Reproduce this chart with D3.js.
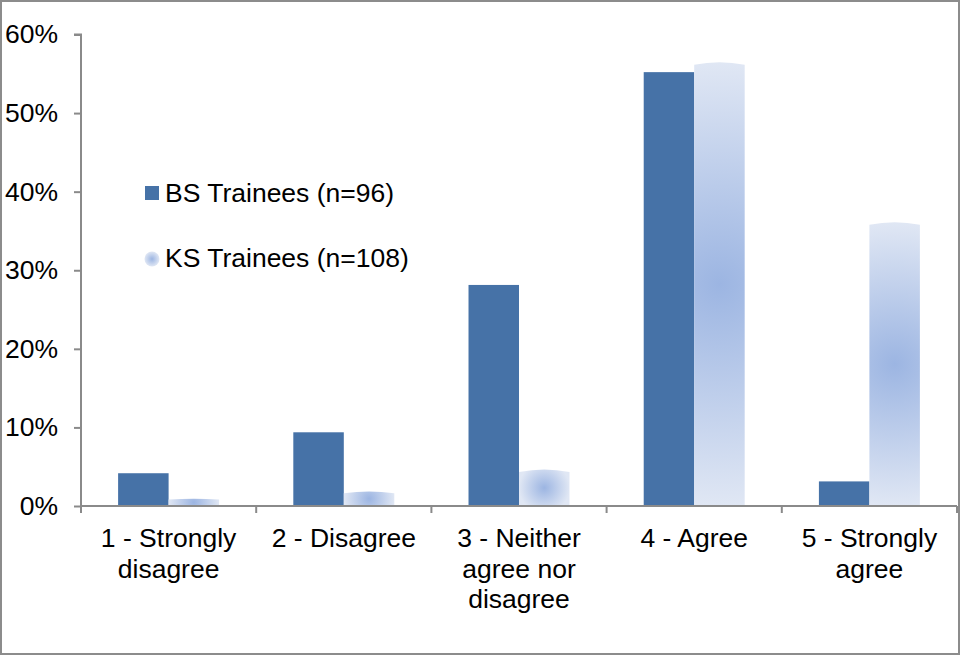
<!DOCTYPE html>
<html>
<head>
<meta charset="utf-8">
<script src="https://cdn.jsdelivr.net/npm/d3@7"></script>
<style>
  html, body { margin: 0; padding: 0; background: #fff; }
  svg { display: block; font-family: "Liberation Sans", Arial, sans-serif; }
</style>
</head>
<body>
<svg id="chart" width="961" height="656"></svg>
<script>
// Survey responses by trainee group (percent of respondents)
const categories = ["1 - Strongly disagree", "2 - Disagree", "3 - Neither agree nor disagree", "4 - Agree", "5 - Strongly agree"];
const categoryLines = [["1 - Strongly", "disagree"], ["2 - Disagree"], ["3 - Neither", "agree nor", "disagree"], ["4 - Agree"], ["5 - Strongly", "agree"]];
const seriesNames = ["BS Trainees (n=96)", "KS Trainees (n=108)"];
const bsValues = [4.17, 9.38, 28.13, 55.21, 3.13];
const ksValues = [0.93, 1.85, 4.63, 56.48, 36.11];
const yTicks = [0, 10, 20, 30, 40, 50, 60];

const svg = d3.select("#chart");
const axisColor = "#8a8a8a";
const bsColor = "#4672a7";
const ksCenter = "#9cb5e2";
const ksEdge = "#e0e7f4";
const fontSize = 26.5;

// Outer frame
svg.append("rect")
  .attr("x", 1).attr("y", 1).attr("width", 958).attr("height", 653)
  .attr("fill", "#fff").attr("stroke", "#8c8c8c").attr("stroke-width", 2);

const defs = svg.append("defs");

const plot = { left: 81, right: 957, top: 34.5, bottom: 506 };

const x = d3.scaleBand().domain(categories).range([plot.left, plot.right]).padding(0);
const x1 = d3.scaleBand().domain(["BS", "KS"]).range([0, x.bandwidth()])
  .paddingInner(0).paddingOuter(0.735);
const y = d3.scaleLinear().domain([0, 60]).range([plot.bottom, plot.top]);

// BS bars
svg.append("g").selectAll("rect")
  .data(bsValues)
  .join("rect")
  .attr("x", (d, i) => x(categories[i]) + x1("BS"))
  .attr("y", d => y(d))
  .attr("width", x1.bandwidth())
  .attr("height", d => y(0) - y(d))
  .attr("fill", bsColor);

// KS bars: circular glow centred in each bar, with a slightly rounded cap
ksValues.forEach((d, i) => {
  const x0 = x(categories[i]) + x1("KS");
  const w = x1.bandwidth();
  const top = y(d);
  const b = y(0);
  const g = defs.append("radialGradient")
    .attr("id", "ks" + i)
    .attr("gradientUnits", "userSpaceOnUse")
    .attr("cx", x0 + w / 2).attr("cy", (top + b) / 2)
    .attr("r", Math.max(w, b - top) / 2);
  g.append("stop").attr("offset", 0).attr("stop-color", ksCenter);
  g.append("stop").attr("offset", 1).attr("stop-color", ksEdge);
});
svg.append("g").selectAll("path")
  .data(ksValues)
  .join("path")
  .attr("d", (d, i) => {
    const x0 = x(categories[i]) + x1("KS");
    const w = x1.bandwidth();
    const top = y(d);
    const b = y(0);
    const rise = Math.min(2.5, (b - top) / 8);
    return `M${x0},${b} L${x0},${top + rise} Q${x0 + w / 2},${top - rise} ${x0 + w},${top + rise} L${x0 + w},${b} Z`;
  })
  .attr("fill", (d, i) => `url(#ks${i})`);

// Y axis
const yAxis = svg.append("g")
  .attr("transform", `translate(${plot.left},0)`)
  .call(d3.axisLeft(y).tickValues(yTicks).tickFormat(d => d + "%").tickSize(7).tickPadding(16));
yAxis.select(".domain").attr("stroke", axisColor).attr("stroke-width", 2)
  .attr("d", `M-7,${y(60)}H0V${y(0)}`);
yAxis.selectAll(".tick line").attr("stroke", axisColor).attr("stroke-width", 2);
yAxis.selectAll(".tick text").attr("fill", "#000").attr("font-size", fontSize)
  .attr("font-family", "Liberation Sans, Arial, sans-serif");

// X axis: baseline, boundary ticks, and wrapped category labels
const xAxis = svg.append("g");
xAxis.append("line")
  .attr("x1", plot.left).attr("x2", plot.right)
  .attr("y1", y(0)).attr("y2", y(0))
  .attr("stroke", axisColor).attr("stroke-width", 2);
const bounds = categories.map(c => x(c)).concat([x.range()[1]]);
xAxis.selectAll("line.tick")
  .data(bounds)
  .join("line")
  .attr("class", "tick")
  .attr("x1", d => d).attr("x2", d => d)
  .attr("y1", y(0)).attr("y2", y(0) + 7)
  .attr("stroke", axisColor).attr("stroke-width", 2);
const labels = xAxis.selectAll("text")
  .data(categories)
  .join("text")
  .attr("text-anchor", "middle")
  .attr("font-size", fontSize)
  .attr("fill", "#000");
labels.each(function (c, i) {
  const t = d3.select(this);
  categoryLines[i].forEach((line, j) => {
    t.append("tspan")
      .attr("x", x(c) + x.bandwidth() / 2)
      .attr("y", 547 + j * 30.5)
      .text(line);
  });
});

// Legend
const legend = svg.append("g");
legend.append("rect")
  .attr("x", 145).attr("y", 186).attr("width", 14).attr("height", 14)
  .attr("fill", bsColor);
const dotGrad = defs.append("radialGradient").attr("id", "ksDot");
dotGrad.append("stop").attr("offset", 0).attr("stop-color", ksCenter);
dotGrad.append("stop").attr("offset", 1).attr("stop-color", ksEdge);
legend.append("circle")
  .attr("cx", 152).attr("cy", 259).attr("r", 7.5)
  .attr("fill", "url(#ksDot)");
legend.selectAll("text")
  .data(seriesNames)
  .join("text")
  .attr("x", 165)
  .attr("y", (d, i) => 201.5 + i * 65)
  .attr("font-size", fontSize)
  .attr("fill", "#000")
  .text(d => d);
</script>
</body>
</html>
